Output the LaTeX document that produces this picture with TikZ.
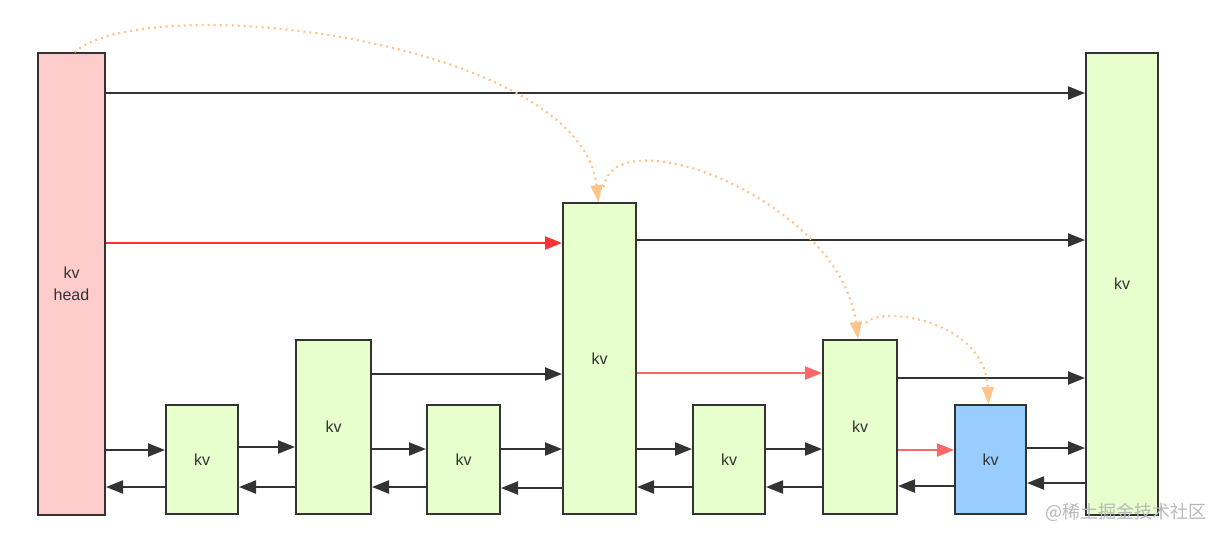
\documentclass[tikz,border=0pt]{standalone}
\usepackage{fontspec}
\setmainfont{Liberation Sans}
\newfontfamily\cjkfont{Noto Sans CJK SC}
\usetikzlibrary{arrows.meta,positioning}
\definecolor{kvgreen}{HTML}{E6FFCC}
\definecolor{kvpink}{HTML}{FFCCCC}
\definecolor{kvblue}{HTML}{99CCFF}
\definecolor{lineg}{HTML}{333333}
\definecolor{hotred}{HTML}{FF3333}
\definecolor{softred}{HTML}{FF6666}
\definecolor{peach}{HTML}{FFC48C}

\begin{document}
\begin{tikzpicture}[
    x=1pt, y=-1pt,
    >={Triangle[length=17pt,width=13pt]},
    kv/.style={draw=lineg, line width=2pt, fill=kvgreen, inner sep=0pt,
               minimum width=72pt, minimum height=109pt, align=center,
               font=\fontsize{16}{22}\selectfont, text=black!80},
    tall/.style={kv, minimum height=174pt},
    arr/.style={->, line width=2.2pt, draw=lineg},
    redarr/.style={arr, draw=hotred, fill=hotred},
    pinkarr/.style={arr, draw=softred, fill=softred},
    jump/.style={line width=2.2pt, draw=peach, dash pattern=on 2pt off 4pt,
                 -{Triangle[length=17pt,width=12pt,fill=peach]}},
  ]
  \useasboundingbox (0,0) rectangle (1224,539);

  % towers
  \node[kv, fill=kvpink, minimum width=67pt, minimum height=462pt] (head) at (71.5,284) {kv\\head};
  \node[kv, minimum height=462pt] (tail) at (1122,284) {kv};
  \node[kv, minimum width=73pt, minimum height=311pt] (mid) at (599.5,358.5) {kv};

  % lower nodes
  \node[kv] (n1) at (202,459.5) {kv};
  \node[tall, minimum width=75pt] (n2) at (333.5,427) {kv};
  \node[kv, minimum width=73pt] (n3) at (463.5,459.5) {kv};
  \node[kv] (n5) at (729,459.5) {kv};
  \node[tall, minimum width=74pt] (n6) at (860,427) {kv};
  \node[kv, fill=kvblue, minimum width=71pt] (n7) at (990.5,459.5) {kv};

  % level 3
  \draw[arr] (head.east |- 0,93) -- (tail.west |- 0,93);
  % level 2
  \draw[redarr] (head.east |- 0,243) -- (mid.west |- 0,243);
  \draw[arr] (mid.east |- 0,240) -- (tail.west |- 0,240);
  % level 1
  \draw[arr] (n2.east |- 0,374) -- (mid.west |- 0,374);
  \draw[pinkarr] (mid.east |- 0,373) -- (n6.west |- 0,373);
  \draw[arr] (n6.east |- 0,378) -- (tail.west |- 0,378);

  % level 0 forward
  \draw[arr] (head.east |- 0,450) -- (n1.west |- 0,450);
  \draw[arr] (n1.east |- 0,447) -- (n2.west |- 0,447);
  \draw[arr] (n2.east |- 0,449) -- (n3.west |- 0,449);
  \draw[arr] (n3.east |- 0,449) -- (mid.west |- 0,449);
  \draw[arr] (mid.east |- 0,449) -- (n5.west |- 0,449);
  \draw[arr] (n5.east |- 0,449) -- (n6.west |- 0,449);
  \draw[pinkarr] (n6.east |- 0,450) -- (n7.west |- 0,450);
  \draw[arr] (n7.east |- 0,448) -- (tail.west |- 0,448);

  % level 0 backward
  \draw[arr] (n1.west |- 0,487) -- (head.east |- 0,487);
  \draw[arr] (n2.west |- 0,487) -- (n1.east |- 0,487);
  \draw[arr] (n3.west |- 0,487) -- (n2.east |- 0,487);
  \draw[arr] (mid.west |- 0,488) -- (n3.east |- 0,488);
  \draw[arr] (n5.west |- 0,487) -- (mid.east |- 0,487);
  \draw[arr] (n6.west |- 0,487) -- (n5.east |- 0,487);
  \draw[arr] (n7.west |- 0,486) -- (n6.east |- 0,486);
  \draw[arr] (tail.west |- 0,483) -- (n7.east |- 0,483);

  % search path
  \draw[jump] ([xshift=3pt]head.north) .. controls (150,-12) and (580,40) .. ([xshift=-1pt]mid.north);
  \draw[jump] ([xshift=4pt,yshift=15pt]mid.north) .. controls (615,115) and (840,200) .. ([xshift=-2pt]n6.north);
  \draw[jump] ([xshift=6pt,yshift=16pt]n6.north) .. controls (880,305) and (985,320) .. ([xshift=-2pt]n7.north);

  \node[font=\cjkfont\fontsize{18}{18}\selectfont, text=black!28, anchor=east] (mark) at (1210,512) {@稀土掘金技术社区};
\end{tikzpicture}
\end{document}
